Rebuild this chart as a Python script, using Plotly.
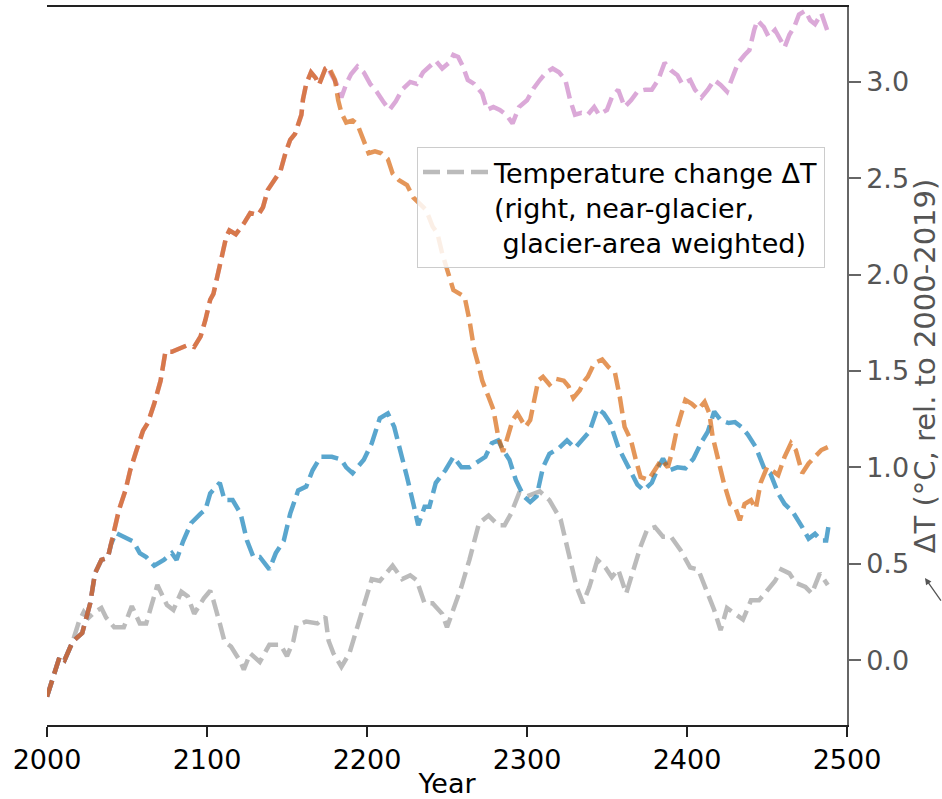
import plotly.graph_objects as go

# ---------------- data ----------------
# gray series
gray_years = [2000, 2005, 2008, 2011, 2016, 2020, 2023, 2026, 2030, 2034, 2037, 2042, 2048, 2053, 2058,
              2062, 2069, 2075, 2079, 2084, 2088, 2092, 2098, 2102, 2104, 2108, 2111, 2115, 2121, 2123,
              2127, 2133, 2139, 2146, 2150, 2154, 2156, 2162, 2169, 2174, 2176, 2179, 2184, 2189, 2194,
              2198, 2203, 2208, 2216, 2222, 2227, 2231, 2236, 2241, 2247, 2250, 2254, 2259, 2264, 2270,
              2276, 2282, 2286, 2290, 2295, 2300, 2308, 2314, 2321, 2325, 2331, 2335, 2339, 2344, 2349,
              2353, 2357, 2362, 2366, 2371, 2375, 2380, 2385, 2390, 2396, 2402, 2407, 2412, 2417, 2421,
              2425, 2430, 2435, 2440, 2445, 2450, 2455, 2459, 2464, 2468, 2474, 2478, 2483, 2488]
gray_vals = [-0.19, -0.06, 0.02, 0.00, 0.095, 0.20, 0.25, 0.22, 0.25, 0.27, 0.22, 0.17, 0.17, 0.28, 0.19,
             0.19, 0.39, 0.285, 0.26, 0.355, 0.33, 0.24, 0.32, 0.36, 0.31, 0.19, 0.095, 0.07, -0.01, -0.05,
             0.035, -0.01, 0.08, 0.08, 0.02, 0.10, 0.18, 0.20, 0.19, 0.225, 0.10, 0.035, -0.035, 0.035, 0.17,
             0.29, 0.42, 0.41, 0.49, 0.42, 0.44, 0.415, 0.295, 0.295, 0.24, 0.17, 0.26, 0.38, 0.52, 0.71,
             0.75, 0.70, 0.70, 0.76, 0.865, 0.85, 0.875, 0.83, 0.73, 0.59, 0.38, 0.295, 0.38, 0.52, 0.48,
             0.43, 0.47, 0.345, 0.45, 0.59, 0.675, 0.69, 0.64, 0.64, 0.57, 0.48, 0.47, 0.36, 0.26, 0.155,
             0.27, 0.24, 0.21, 0.31, 0.31, 0.36, 0.41, 0.47, 0.45, 0.40, 0.38, 0.345, 0.45, 0.39]

# blue series
blue_years = [2000, 2005, 2008, 2011, 2016, 2022, 2027, 2030, 2034, 2038, 2040, 2043, 2048, 2054, 2058,
              2062, 2067, 2073, 2078, 2081, 2085, 2090, 2096, 2099, 2102, 2108, 2111, 2116, 2121, 2125,
              2129, 2133, 2139, 2143, 2148, 2152, 2157, 2162, 2166, 2171, 2178, 2184, 2187, 2191, 2198,
              2203, 2208, 2213, 2217, 2221, 2225, 2229, 2232, 2236, 2239, 2243, 2249, 2254, 2259, 2264,
              2268, 2274, 2278, 2282, 2285, 2289, 2293, 2298, 2302, 2306, 2310, 2314, 2320, 2325, 2330,
              2334, 2339, 2344, 2348, 2352, 2357, 2361, 2365, 2369, 2373, 2378, 2382, 2385, 2389, 2394,
              2399, 2404, 2409, 2413, 2417, 2421, 2426, 2430, 2434, 2438, 2443, 2448, 2452, 2457, 2461,
              2466, 2472, 2476, 2480, 2484, 2487, 2489]
blue_vals = [-0.19, -0.06, 0.02, 0.00, 0.095, 0.14, 0.295, 0.45, 0.52, 0.53, 0.60, 0.66, 0.64, 0.615, 0.555,
             0.535, 0.49, 0.52, 0.555, 0.52, 0.615, 0.71, 0.76, 0.78, 0.865, 0.92, 0.83, 0.83, 0.76, 0.62,
             0.535, 0.535, 0.47, 0.555, 0.62, 0.76, 0.88, 0.90, 0.985, 1.055, 1.055, 1.04, 1.00, 0.97, 1.04,
             1.125, 1.255, 1.28, 1.21, 1.09, 0.95, 0.81, 0.70, 0.795, 0.795, 0.92, 0.985, 1.055, 1.00, 1.00,
             1.02, 1.055, 1.125, 1.14, 1.09, 1.04, 0.935, 0.85, 0.82, 0.85, 1.00, 1.07, 1.10, 1.14, 1.10,
             1.14, 1.185, 1.305, 1.28, 1.23, 1.105, 1.04, 0.97, 0.91, 0.88, 0.92, 1.00, 1.045, 0.985, 1.00,
             0.995, 1.045, 1.13, 1.185, 1.29, 1.245, 1.23, 1.235, 1.21, 1.17, 1.105, 1.00, 0.97, 0.865, 0.81,
             0.77, 0.69, 0.63, 0.655, 0.62, 0.62, 0.725]

# shared rise of the orange and pink series (2000-2176)
rise_years = [2000, 2005, 2008, 2011, 2016, 2022, 2027, 2030, 2034, 2038, 2040, 2045, 2049, 2052, 2056,
              2060, 2063, 2067, 2071, 2074, 2078, 2083, 2088, 2092, 2096, 2099, 2102, 2104, 2107, 2109,
              2112, 2114, 2118, 2123, 2127, 2132, 2135, 2138, 2142, 2146, 2149, 2152, 2155, 2157, 2159,
              2160, 2162, 2165, 2168, 2170, 2174, 2176]
rise_vals = [-0.19, -0.06, 0.02, 0.00, 0.095, 0.14, 0.295, 0.45, 0.52, 0.53, 0.60, 0.78, 0.88, 0.985, 1.09,
             1.19, 1.23, 1.33, 1.45, 1.60, 1.60, 1.62, 1.635, 1.625, 1.68, 1.765, 1.87, 1.90, 2.005, 2.09,
             2.195, 2.23, 2.21, 2.265, 2.32, 2.31, 2.35, 2.44, 2.49, 2.54, 2.63, 2.70, 2.73, 2.785, 2.83,
             2.91, 2.99, 3.05, 3.02, 2.985, 3.07, 3.08]

# orange series after the split
orange_years = [2178, 2180, 2182, 2184, 2187, 2191, 2194, 2198, 2201, 2205, 2209, 2213, 2216, 2220, 2225,
                2229, 2233, 2237, 2241, 2244, 2247, 2251, 2254, 2258, 2261, 2264, 2267, 2270, 2272, 2276,
                2279, 2282, 2285, 2288, 2291, 2294, 2299, 2302, 2304, 2307, 2310, 2314, 2318, 2323, 2326,
                2329, 2333, 2336, 2338, 2342, 2347, 2351, 2355, 2358, 2361, 2365, 2368, 2371, 2376, 2380,
                2384, 2388, 2391, 2394, 2399, 2403, 2407, 2411, 2414, 2416, 2420, 2423, 2427, 2430, 2433,
                2436, 2440, 2443, 2446, 2450, 2453, 2457, 2461, 2465, 2468, 2472, 2476, 2480, 2484, 2488]
orange_vals = [3.04, 3.01, 2.905, 2.84, 2.79, 2.80, 2.78, 2.70, 2.63, 2.64, 2.63, 2.60, 2.525, 2.49, 2.465,
               2.40, 2.37, 2.335, 2.25, 2.215, 2.11, 1.99, 1.92, 1.90, 1.885, 1.765, 1.61, 1.52, 1.45, 1.365,
               1.30, 1.16, 1.08, 1.16, 1.245, 1.28, 1.21, 1.245, 1.33, 1.45, 1.47, 1.43, 1.46, 1.45, 1.42,
               1.36, 1.40, 1.45, 1.47, 1.54, 1.56, 1.52, 1.49, 1.365, 1.21, 1.14, 1.04, 0.95, 0.935, 0.985,
               1.04, 1.00, 1.09, 1.21, 1.35, 1.33, 1.30, 1.34, 1.28, 1.16, 1.02, 0.92, 0.81, 0.795, 0.725,
               0.81, 0.83, 0.785, 0.92, 1.00, 0.985, 0.96, 1.055, 1.125, 1.09, 0.97, 1.02, 1.055, 1.09, 1.105]

# pink series after the split
pink_years = [2177, 2181, 2184, 2187, 2190, 2194, 2198, 2202, 2206, 2210, 2214, 2218, 2222, 2227, 2231,
              2235, 2239, 2243, 2247, 2252, 2254, 2257, 2260, 2263, 2267, 2272, 2275, 2279, 2283, 2287,
              2291, 2295, 2300, 2304, 2308, 2312, 2316, 2320, 2324, 2327, 2330, 2334, 2338, 2342, 2345,
              2350, 2353, 2357, 2361, 2365, 2369, 2374, 2378, 2382, 2386, 2390, 2394, 2397, 2402, 2405,
              2409, 2413, 2417, 2421, 2425, 2428, 2432, 2436, 2439, 2442, 2444, 2448, 2451, 2455, 2458,
              2461, 2464, 2467, 2470, 2474, 2477, 2480, 2484, 2488]
pink_vals = [3.05, 2.99, 2.92, 2.99, 3.04, 3.08, 3.05, 2.99, 2.95, 2.90, 2.855, 2.90, 2.96, 3.00, 2.99,
             3.05, 3.08, 3.11, 3.07, 3.105, 3.14, 3.13, 3.08, 3.01, 2.99, 2.94, 2.855, 2.87, 2.855, 2.83,
             2.785, 2.87, 2.905, 2.965, 3.01, 3.05, 3.07, 3.05, 3.01, 2.905, 2.83, 2.84, 2.83, 2.87, 2.83,
             2.855, 2.92, 2.96, 2.87, 2.905, 2.95, 2.96, 2.96, 3.01, 3.10, 3.06, 3.035, 2.99, 3.01, 2.96,
             2.92, 2.96, 3.01, 2.985, 2.95, 3.01, 3.10, 3.14, 3.165, 3.27, 3.32, 3.285, 3.235, 3.27, 3.225,
             3.18, 3.245, 3.285, 3.35, 3.37, 3.32, 3.30, 3.355, 3.26]

x_ticks = [2000, 2100, 2200, 2300, 2400, 2500]
y_ticks = [0.0, 0.5, 1.0, 1.5, 2.0, 2.5, 3.0]
legend_label = "Temperature change ΔT<br>(right, near-glacier,<br>\u00a0glacier-area weighted)"
y_title = "ΔT (°C, rel. to 2000-2019)"

# ---------------- figure ----------------
DASH = "17px,7px"
LW = 4.5

fig = go.Figure()
fig.add_trace(go.Scatter(x=gray_years, y=gray_vals, mode="lines", name=legend_label,
                         line=dict(color="rgba(150,150,150,0.65)", width=LW, dash=DASH),
                         showlegend=True))
fig.add_trace(go.Scatter(x=blue_years, y=blue_vals, mode="lines", showlegend=False,
                         line=dict(color="rgba(0,118,180,0.65)", width=LW, dash=DASH)))
fig.add_trace(go.Scatter(x=rise_years + pink_years, y=rise_vals + pink_vals, mode="lines",
                         showlegend=False,
                         line=dict(color="rgba(200,123,195,0.65)", width=LW, dash=DASH)))
fig.add_trace(go.Scatter(x=rise_years + orange_years, y=rise_vals + orange_vals, mode="lines",
                         showlegend=False,
                         line=dict(color="rgba(213,94,0,0.65)", width=LW, dash=DASH)))

YR = [-0.337, 3.389]

fig.update_layout(
    width=942, height=799,
    margin=dict(l=47, r=95, t=7, b=74, autoexpand=False),
    paper_bgcolor="white", plot_bgcolor="white",
    font=dict(family="DejaVu Sans", size=27, color="black"),
    showlegend=True,
    legend=dict(x=0.4625, y=0.805, xanchor="left", yanchor="top",
                bgcolor="rgba(255,255,255,0.85)", bordercolor="#cccccc", borderwidth=1,
                font=dict(size=27, color="black"), valign="top", itemwidth=66,
                tracegroupgap=0),
    xaxis=dict(range=[2000, 2500], tickvals=x_ticks, ticktext=[str(v) for v in x_ticks],
               showgrid=False, zeroline=False, showline=True, linecolor="#222", linewidth=1.5,
               mirror=True, ticks="outside", ticklen=10, tickwidth=1.5, tickcolor="#222",
               tickfont=dict(size=27, color="black"),
               title=dict(text="Year", font=dict(size=27, color="black"), standoff=6)),
    yaxis=dict(range=YR, side="right", tickvals=y_ticks, ticktext=[f"{v:.1f}" for v in y_ticks],
               showgrid=False, zeroline=False, showline=True, linecolor="#666", linewidth=1.5,
               ticks="outside", ticklen=12, tickwidth=1.5, tickcolor="#666",
               tickfont=dict(size=27, color="#555"),
               title=dict(text=y_title, font=dict(size=29, color="#555"), standoff=6)),
    yaxis2=dict(range=YR, overlaying="y", side="left", showgrid=False, zeroline=False,
                showline=True, linecolor="#333", linewidth=1.5, showticklabels=False, ticks=""),
)

fig.add_annotation(x=1.0975, y=0.2047, xref="paper", yref="paper", text="",
                   showarrow=True, ax=32, ay=24, arrowhead=2, arrowsize=1, arrowwidth=1.3,
                   arrowcolor="#555")

fig.write_html("out.html")
